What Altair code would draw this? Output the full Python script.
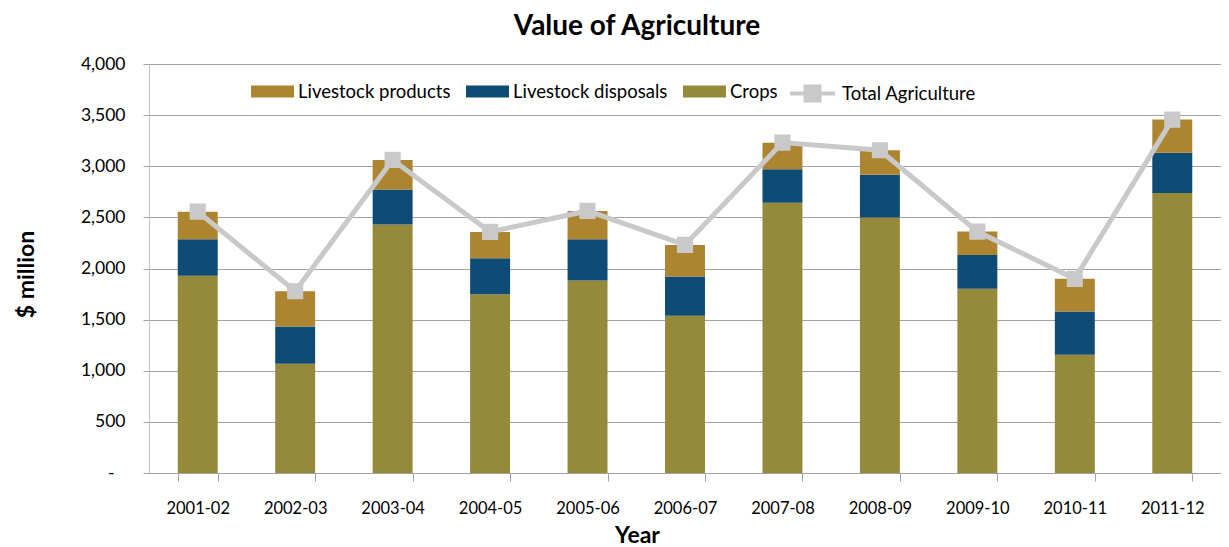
import altair as alt
import pandas as pd

# ---- data ----
years = ["2001-02", "2002-03", "2003-04", "2004-05", "2005-06", "2006-07",
         "2007-08", "2008-09", "2009-10", "2010-11", "2011-12"]
crops = [1928, 1068, 2430, 1749, 1882, 1537, 2644, 2498, 1801, 1156, 2739]
livestock_disposals = [359, 365, 342, 352, 405, 384, 327, 420, 332, 423, 394]
livestock_products = [269, 345, 290, 257, 276, 310, 260, 238, 228, 320, 323]
total_agriculture = [2556, 1778, 3062, 2358, 2563, 2231, 3231, 3156, 2361, 1899, 3456]

series_names = ["Livestock products", "Livestock disposals", "Crops"]
series_colors = ["#AD8430", "#0F4C75", "#948A3A"]
stack_rank = {"Crops": 0, "Livestock disposals": 1, "Livestock products": 2}
y_ticks = [0, 500, 1000, 1500, 2000, 2500, 3000, 3500, 4000]

rows = []
for i, yr in enumerate(years):
    for name, vals in (("Crops", crops),
                       ("Livestock disposals", livestock_disposals),
                       ("Livestock products", livestock_products)):
        rows.append({"year": yr, "series": name, "value": vals[i], "rank": stack_rank[name]})
bars_df = pd.DataFrame(rows)
line_df = pd.DataFrame({"year": years, "total": total_agriculture,
                        "name": ["Total Agriculture"] * len(years)})

FONT = "Lato"
GRID = "#A3A3A3"
LINE = "#C9C9C9"


def x_enc():
    return alt.X(
        "year:N", sort=years,
        scale=alt.Scale(paddingInner=0.59, paddingOuter=0.295),
        axis=alt.Axis(
            labelAngle=0, labelFont=FONT, labelFontSize=16.5, labelColor="black",
            tickBand="extent", tickSize=8, tickColor=GRID, domainColor=GRID,
            labelPadding=19, grid=False,
            title="Year", titleFont=FONT, titleFontSize=23, titleFontWeight="bold",
            titleColor="black", titleX=488, titleY=62, titleBaseline="middle",
            titleAlign="center",
        ),
    )


def y_axis():
    return alt.Axis(
        values=y_ticks,
        labelExpr="datum.value == 0 ? '-' : format(datum.value, ',')",
        labelFont=FONT, labelFontSize=17.5, labelColor="black",
        tickSize=6, tickColor=GRID, domainColor="#C0C0C0",
        gridColor=GRID,
        labelPadding={"condition": {"test": "datum.value == 0", "value": 29}, "value": 18},
        title="$ million", titleFont=FONT, titleFontSize=23, titleFontWeight="bold",
        titleColor="black", titleX=-123, titleY=210, titleAlign="center",
        titleBaseline="middle", titleAngle=-90,
    )


yscale = alt.Scale(domain=[0, 4000], nice=False)

bars = alt.Chart(bars_df).mark_bar().encode(
    x=x_enc(),
    y=alt.Y("value:Q", stack="zero", scale=yscale, axis=y_axis()),
    fill=alt.Fill(
        "series:N",
        scale=alt.Scale(domain=series_names, range=series_colors),
        legend=alt.Legend(
            orient="none", legendX=99, legendY=3, direction="horizontal", title=None,
            symbolType="M-1,-0.28H1V0.28H-1Z", symbolSize=1849, symbolStrokeWidth=0,
            symbolOpacity=1, labelFont=FONT, labelFontSize=18.5, labelColor="black",
            labelOffset=4, columnPadding=15, fillColor="white", padding=3,
        ),
    ),
    order=alt.Order("rank:Q", sort="ascending"),
)

line = alt.Chart(line_df).mark_line(
    strokeWidth=5,
    point=alt.OverlayMarkDef(shape="square", size=200, filled=True, fill=LINE),
).encode(
    x=x_enc(),
    y=alt.Y("total:Q", scale=yscale, axis=y_axis()),
    stroke=alt.Stroke(
        "name:N",
        scale=alt.Scale(domain=["Total Agriculture"], range=[LINE]),
        legend=alt.Legend(
            orient="none", legendX=636, legendY=2, direction="horizontal", title=None,
            symbolType="M-1,0H1M-0.31,-0.31H0.31V0.31H-0.31Z", symbolSize=2025,
            symbolStrokeWidth=4, symbolFillColor=LINE, symbolOpacity=1,
            labelFont=FONT, labelFontSize=18.5, labelColor="black", labelOffset=5,
            fillColor="white", padding=3,
        ),
    ),
)

chart = alt.layer(bars, line).properties(
    width=1072, height=409,
    padding={"left": 141, "top": 56, "right": 0, "bottom": 74},
    autosize=alt.AutoSizeParams(type="none"),
    title=alt.TitleParams(
        "Value of Agriculture", font=FONT, fontSize=28, fontWeight="bold",
        color="black", anchor="middle", frame="group", dx=-48, offset=14,
    ),
).configure_view(stroke=None).configure(background="white")

chart.save("out.html", embed_options={"renderer": "svg", "actions": False})
